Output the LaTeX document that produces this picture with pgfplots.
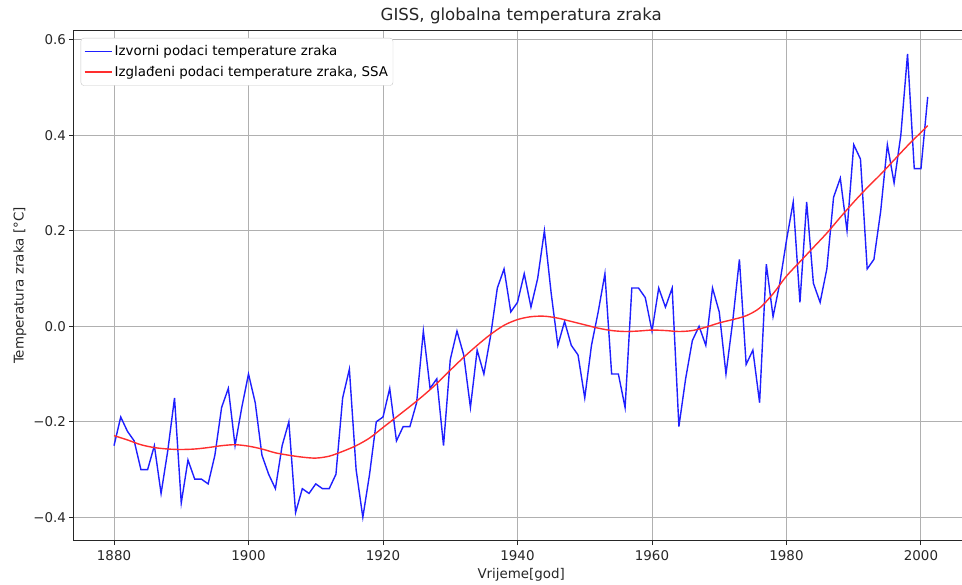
\documentclass[border=0pt]{standalone}
\usepackage{pgfplots}
\pgfplotsset{compat=1.18}
\usepackage{fontspec}
\setmainfont{DejaVu Sans}
\definecolor{tickgray}{HTML}{262626}
\definecolor{gridgray}{HTML}{B0B0B0}
\colorlet{lineblue}{blue!88!white}
\colorlet{linered}{red!82!white}
\begin{document}
\begin{tikzpicture}
\begin{axis}[
  scale only axis,
  width=894.4pt, height=509.7pt,
  xmin=1874.05, xmax=2007.05,
  ymin=-0.4485, ymax=0.6185,
  xtick={1880,1900,1920,1940,1960,1980,2000},
  ytick={-0.4,-0.2,0,0.2,0.4,0.6},
  yticklabels={−0.4,−0.2,0.0,0.2,0.4,0.6},
  xticklabel style={/pgf/number format/1000 sep={}},
  /pgf/number format/assume math mode=true,
  tick label style={font=\fontsize{13.4}{16}\selectfont, text=tickgray},
  xticklabel style={yshift=-1.5pt},
  label style={font=\fontsize{13.4}{16}\selectfont, text=tickgray},
  xlabel style={yshift=-1pt},
  grid=major,
  major grid style={gridgray, line width=1pt},
  axis line style={tickgray, line width=1pt},
  tick style={tickgray, line width=1pt},
  tick align=outside,
  major tick length=4.6pt,
  xtick pos=bottom, ytick pos=left,
  title={GISS, globalna temperatura zraka},
  title style={font=\fontsize{16.6}{19}\selectfont, text=tickgray, yshift=-3pt},
  xlabel={Vrijeme[god]},
  ylabel={Temperatura zraka [°C]},
  legend style={at={(rel axis cs:0.0075,0.986)}, anchor=north west,
    font=\fontsize{13.4}{16}\selectfont,
    draw=gridgray!70, rounded corners=3pt, fill=white,
    inner sep=3pt, nodes={inner ysep=4.5pt}},
  legend cell align=left,
  legend image post style={line width=1.4pt, xscale=1.6},
]
\addplot[lineblue, line width=1.4pt] coordinates {
(1880,-0.25)(1881,-0.19)(1882,-0.22)(1883,-0.24)(1884,-0.30)(1885,-0.30)(1886,-0.25)(1887,-0.35)(1888,-0.26)(1889,-0.15)
(1890,-0.37)(1891,-0.28)(1892,-0.32)(1893,-0.32)(1894,-0.33)(1895,-0.27)(1896,-0.17)(1897,-0.13)(1898,-0.25)(1899,-0.17)
(1900,-0.10)(1901,-0.16)(1902,-0.27)(1903,-0.31)(1904,-0.34)(1905,-0.25)(1906,-0.20)(1907,-0.39)(1908,-0.34)(1909,-0.35)
(1910,-0.33)(1911,-0.34)(1912,-0.34)(1913,-0.31)(1914,-0.15)(1915,-0.09)(1916,-0.30)(1917,-0.40)(1918,-0.31)(1919,-0.20)
(1920,-0.19)(1921,-0.13)(1922,-0.24)(1923,-0.21)(1924,-0.21)(1925,-0.16)(1926,-0.01)(1927,-0.13)(1928,-0.11)(1929,-0.25)
(1930,-0.07)(1931,-0.01)(1932,-0.06)(1933,-0.17)(1934,-0.05)(1935,-0.10)(1936,-0.02)(1937,0.08)(1938,0.12)(1939,0.03)
(1940,0.05)(1941,0.11)(1942,0.04)(1943,0.10)(1944,0.20)(1945,0.07)(1946,-0.04)(1947,0.01)(1948,-0.04)(1949,-0.06)
(1950,-0.15)(1951,-0.04)(1952,0.03)(1953,0.11)(1954,-0.10)(1955,-0.10)(1956,-0.17)(1957,0.08)(1958,0.08)(1959,0.06)
(1960,-0.01)(1961,0.08)(1962,0.04)(1963,0.08)(1964,-0.21)(1965,-0.11)(1966,-0.03)(1967,0.00)(1968,-0.04)(1969,0.08)
(1970,0.03)(1971,-0.10)(1972,0.01)(1973,0.14)(1974,-0.08)(1975,-0.05)(1976,-0.16)(1977,0.13)(1978,0.02)(1979,0.09)
(1980,0.18)(1981,0.26)(1982,0.05)(1983,0.26)(1984,0.09)(1985,0.05)(1986,0.12)(1987,0.27)(1988,0.31)(1989,0.20)
(1990,0.38)(1991,0.35)(1992,0.12)(1993,0.14)(1994,0.24)(1995,0.38)(1996,0.30)(1997,0.40)(1998,0.57)(1999,0.33)
(2000,0.33)(2001,0.48)
};
\addlegendentry{Izvorni podaci temperature zraka}
\addplot[linered, line width=1.4pt, smooth] coordinates {
(1880,-0.229)(1882,-0.238)(1884,-0.248)(1886,-0.254)(1888,-0.257)(1890,-0.258)(1892,-0.257)(1894,-0.254)(1896,-0.250)(1898,-0.248)
(1900,-0.251)(1902,-0.257)(1904,-0.265)(1906,-0.270)(1908,-0.274)(1910,-0.276)(1912,-0.272)(1914,-0.262)(1916,-0.250)(1918,-0.234)
(1920,-0.212)(1922,-0.190)(1924,-0.168)(1926,-0.145)(1928,-0.120)(1930,-0.092)(1932,-0.065)(1934,-0.040)(1936,-0.017)(1938,0.002)
(1940,0.014)(1942,0.020)(1944,0.021)(1946,0.017)(1948,0.010)(1950,0.003)(1952,-0.004)(1954,-0.009)(1956,-0.011)(1958,-0.010)
(1960,-0.008)(1962,-0.009)(1964,-0.011)(1966,-0.009)(1968,-0.002)(1970,0.007)(1972,0.014)(1974,0.022)(1976,0.038)(1978,0.068)
(1980,0.105)(1982,0.135)(1984,0.165)(1986,0.195)(1988,0.228)(1990,0.260)(1992,0.290)(1994,0.318)(1996,0.348)(1998,0.378)
(2000,0.406)(2001,0.420)
};
\addlegendentry{Izglađeni podaci temperature zraka, SSA}
\end{axis}
\pgfresetboundingbox
\useasboundingbox ([xshift=-74pt,yshift=-44.5pt]current axis.south west) rectangle ([xshift=888pt,yshift=540.5pt]current axis.south west);
\end{tikzpicture}
\end{document}
